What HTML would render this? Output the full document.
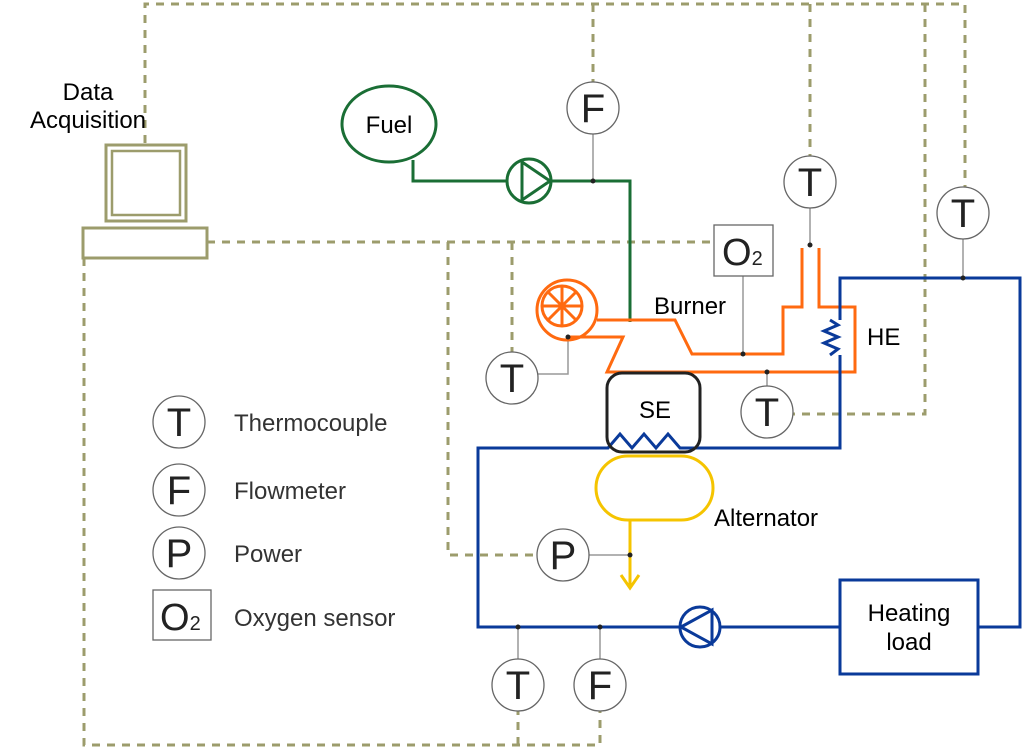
<!DOCTYPE html>
<html><head><meta charset="utf-8"><style>
html,body{margin:0;padding:0;background:#fff;}
svg{display:block;font-family:"Liberation Sans",Arial,sans-serif;}
</style></head><body>
<svg width="1024" height="751" viewBox="0 0 1024 751" xmlns="http://www.w3.org/2000/svg">
<g fill="none" stroke="#9c9c6c" stroke-width="3" stroke-dasharray="8,7">
<path d="M145,143 V4 H965 V190"/>
<path d="M593,4 V82"/>
<path d="M810,4 V156"/>
<path d="M925,4 V414 H793"/>
<path d="M207,242 H714"/>
<path d="M448,242 V555 H537"/>
<path d="M512,242 V352"/>
<path d="M84,258 V745 H600 V711"/>
<path d="M518,745 V711"/>
</g>
<g fill="none" stroke="#9c9c6c" stroke-width="3">
<rect x="106" y="145" width="80" height="76"/>
<rect x="112" y="151" width="68" height="64" stroke-width="2.5"/>
<rect x="83" y="228" width="124" height="30"/>
</g>
<text x="88" y="100" font-size="24" text-anchor="middle">Data</text>
<text x="88" y="128" font-size="24" text-anchor="middle">Acquisition</text>
<g stroke="#999" stroke-width="1.5" fill="none">
<path d="M593,134 V181"/>
<path d="M568,337 V374 H538"/>
<path d="M743,276 V354"/>
<path d="M810,208 V245"/>
<path d="M963,239 V278"/>
<path d="M767,372 V386"/>
<path d="M630,555 H589"/>
<path d="M518,627 V659"/>
<path d="M600,627 V659"/>
</g>
<g fill="none" stroke="#1a6e35" stroke-width="3">
<ellipse cx="389" cy="124" rx="47" ry="38"/>
<path d="M413,160 V181 H507"/>
<path d="M551,181 H630 V322"/>
<circle cx="529" cy="181" r="22"/>
<path d="M522,162 L550,181 L522,200 Z"/>
</g>
<text x="389" y="133" font-size="24" text-anchor="middle">Fuel</text>
<g fill="none" stroke="#ff6a10" stroke-width="3">
<circle cx="567" cy="310" r="30"/>
<circle cx="562" cy="306" r="20"/>
<path d="M542,306 H582 M562,286 V326 M548,292 L576,320 M576,292 L548,320"/>
<path d="M597,320 H675 L692,354 H783 V307 H802 V248"/>
<path d="M819,248 V307 H855 V372 H607 L623,337 H568"/>
</g>
<text x="654" y="314" font-size="24">Burner</text>
<g fill="none" stroke="#0a3a9a" stroke-width="3">
<path d="M840,320 V278 H1020 V627 H978"/>
<path d="M830,320 L838,325 L824,331 L838,337 L824,343 L838,349 L830,355 M840,355 V448 H680 L668,434 L656,448 L644,434 L632,448 L620,434 L608,448 H478 V627 H680"/>
<path d="M720,627 H840"/>
<circle cx="700" cy="627" r="20"/>
<path d="M681,627 L712,610 V644 Z"/>
<rect x="840" y="580" width="138" height="94"/>
</g>
<text x="867" y="345" font-size="24">HE</text>
<text x="909" y="621" font-size="24" text-anchor="middle">Heating</text>
<text x="909" y="650" font-size="24" text-anchor="middle">load</text>
<rect x="607" y="373" width="93" height="79" rx="15" fill="none" stroke="#222" stroke-width="3"/>
<text x="655" y="418" font-size="24" text-anchor="middle">SE</text>
<g fill="none" stroke="#f5c400" stroke-width="3">
<rect x="596" y="456" width="117" height="64" rx="32"/>
<path d="M630,520 V587 M621,575 L630,588 L639,575"/>
</g>
<text x="714" y="526" font-size="24">Alternator</text>
<g fill="#222">
<circle cx="593" cy="181" r="2.5"/><circle cx="568" cy="337" r="2.5"/>
<circle cx="743" cy="354" r="2.5"/><circle cx="810" cy="245" r="2.5"/>
<circle cx="963" cy="278" r="2.5"/><circle cx="767" cy="372" r="2.5"/>
<circle cx="630" cy="555" r="2.5"/><circle cx="518" cy="627" r="2.5"/>
<circle cx="600" cy="627" r="2.5"/>
</g>
<g fill="#fff" stroke="#666" stroke-width="1.3">
<circle cx="593" cy="108" r="26"/>
<circle cx="810" cy="182" r="26"/>
<circle cx="963" cy="213" r="26"/>
<circle cx="512" cy="378" r="26"/>
<circle cx="767" cy="412" r="26"/>
<circle cx="563" cy="555" r="26"/>
<circle cx="518" cy="685" r="26"/>
<circle cx="600" cy="685" r="26"/>
<rect x="714" y="225" width="59" height="51"/>
<circle cx="179" cy="422" r="26"/>
<circle cx="179" cy="490" r="26"/>
<circle cx="179" cy="553" r="26"/>
<rect x="153" y="590" width="58" height="50"/>
</g>
<g font-size="40" text-anchor="middle" fill="#222">
<text x="593" y="122">F</text>
<text x="810" y="196">T</text>
<text x="963" y="227">T</text>
<text x="512" y="392">T</text>
<text x="767" y="426">T</text>
<text x="563" y="569">P</text>
<text x="518" y="699">T</text>
<text x="600" y="699">F</text>
<text x="179" y="436">T</text>
<text x="179" y="504">F</text>
<text x="179" y="567">P</text>
</g>
<text x="722" y="265" font-size="38" fill="#222">O<tspan font-size="20">2</tspan></text>
<text x="160" y="630" font-size="38" fill="#222">O<tspan font-size="20">2</tspan></text>
<g font-size="24" fill="#333">
<text x="234" y="431">Thermocouple</text>
<text x="234" y="499">Flowmeter</text>
<text x="234" y="562">Power</text>
<text x="234" y="626">Oxygen sensor</text>
</g>
</svg>
</body></html>
